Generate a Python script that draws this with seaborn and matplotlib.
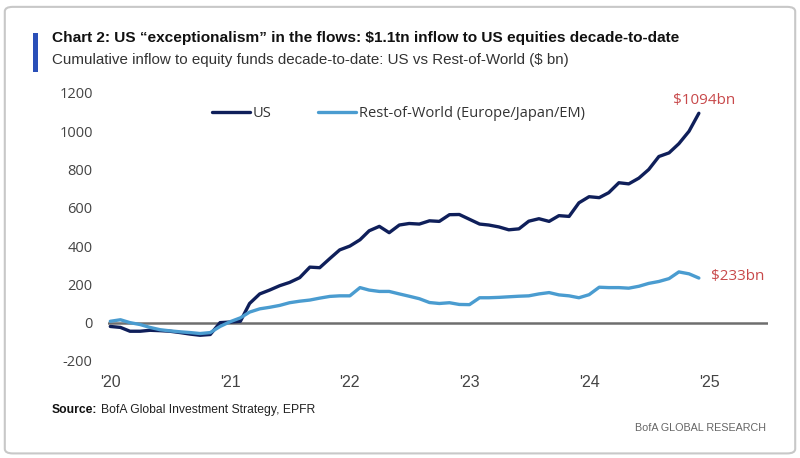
import pandas as pd
import matplotlib
matplotlib.use("Agg")
import matplotlib.pyplot as plt
from matplotlib.patches import FancyBboxPatch, Rectangle
import seaborn as sns

# --------------------------
# data (monthly)
# --------------------------
dates = pd.date_range("2020-01-01", periods=60, freq="MS")
us_flows = [-20, -25, -45, -45, -40, -42, -45, -52, -60, -66,
            -62, 0, 3, 7, 100, 150, 170, 193, 210, 235,
            290, 287, 335, 380, 400, 433, 480, 503, 470, 510,
            518, 515, 532, 529, 564, 565, 540, 515, 510, 500,
            485, 490, 530, 543, 529, 559, 555, 626, 658, 653,
            679, 731, 725, 755, 800, 868, 887, 935, 1000, 1094]
row_flows = [7, 15, 0, -10, -25, -37, -43, -48, -52, -57,
             -52, -20, 5, 25, 55, 72, 80, 90, 104, 112,
             118, 128, 137, 140, 140, 183, 170, 163, 163, 150,
             138, 125, 105, 100, 104, 95, 94, 130, 130, 132,
             135, 138, 140, 150, 157, 145, 140, 130, 146, 185,
             183, 183, 180, 190, 205, 215, 230, 265, 255, 233]
year_ticks = ["2020", "2021", "2022", "2023", "2024", "2025"]
year_labels = ["'20", "'21", "'22", "'23", "'24", "'25"]
y_ticks = [-200, 0, 200, 400, 600, 800, 1000, 1200]

df = pd.DataFrame({"date": dates, "US": us_flows,
                   "Rest-of-World (Europe/Japan/EM)": row_flows})
long = df.melt(id_vars="date", var_name="series", value_name="flow")

# --------------------------
# style
# --------------------------
sns.set_theme(style="white")
plt.rcParams['font.family'] = ['Open Sans', 'DejaVu Sans']
narrow = ['Liberation Sans', 'DejaVu Sans']

fig = plt.figure(figsize=(8, 4.58), dpi=100)
fig.patch.set_facecolor("white")
fig.patches.append(FancyBboxPatch((0.006, 0.01), 0.988, 0.975, boxstyle="round,pad=0,rounding_size=0.01",
                                  transform=fig.transFigure, facecolor="white",
                                  edgecolor="#c8c8c8", linewidth=1.5, zorder=-10))
fig.patches.append(Rectangle((0.041, 0.843), 0.007, 0.085, transform=fig.transFigure,
                             facecolor="#2a4fb8", edgecolor="none"))

ax = fig.add_axes([0.135, 0.212, 0.825, 0.585])
palette = {"US": "#0f1f5a", "Rest-of-World (Europe/Japan/EM)": "#4a9cd0"}
sns.lineplot(data=long, x="date", y="flow", hue="series", palette=palette,
             linewidth=2.4, ax=ax)
ax.axhline(0, color="#6e6e6e", linewidth=1.8, zorder=0)

ax.set_xlim(pd.Timestamp("2019-12-25"), pd.Timestamp("2025-06-30"))
ax.set_ylim(-200, 1200)
ax.set_yticks(y_ticks)
ax.set_yticklabels([str(t) for t in y_ticks])
ax.set_xticks(pd.to_datetime(year_ticks))
ax.set_xticklabels(year_labels, family=narrow)
ax.tick_params(axis="x", labelsize=11.5, colors="#444444", length=0, pad=10)
ax.tick_params(axis="y", labelsize=10.5, colors="#444444", length=0, pad=11)
ax.set_xlabel("")
ax.set_ylabel("")
for s in ax.spines.values():
    s.set_visible(False)

ax.legend(loc="upper center", bbox_to_anchor=(0.44, 1.0), ncol=2, frameon=False,
          fontsize=10.5, handlelength=2.6, handletextpad=0.2, columnspacing=3.2,
          labelcolor="#333333")

ax.annotate("$1094bn", (dates[-1], us_flows[-1]), xytext=(4, 4), textcoords="offset points",
            ha="center", va="bottom", color="#c8494b", fontsize=11)
ax.annotate("$233bn", (dates[-1], row_flows[-1]), xytext=(9, 1), textcoords="offset points",
            ha="left", va="center", color="#c8494b", fontsize=11)

# header / footer texts, shrunk to the widths seen in the reference
renderer = fig.canvas.get_renderer()


def fit_width(txt, width_px):
    w = txt.get_window_extent(renderer).width
    txt.set_fontsize(txt.get_fontsize() * width_px / w)


t1 = fig.text(0.065, 0.917, "Chart 2: US \u201cexceptionalism\u201d in the flows: $1.1tn inflow to US equities decade-to-date",
              family=narrow, fontsize=13, fontweight="bold", color="#111111", va="center")
fit_width(t1, 626)
t2 = fig.text(0.065, 0.868, "Cumulative inflow to equity funds decade-to-date: US vs Rest-of-World ($ bn)",
              family=narrow, fontsize=12, color="#333333", va="center")
fit_width(t2, 518)

src = fig.text(0.065, 0.105, "Source:", family=narrow, fontsize=10, fontweight="bold",
               color="#111111", va="center")
fit_width(src, 45)
src_end = src.get_window_extent(renderer).x1 / fig.bbox.width
t3 = fig.text(src_end + 0.004, 0.105, "BofA Global Investment Strategy, EPFR", family=narrow,
              fontsize=10, color="#222222", va="center")
fit_width(t3, 215)
t4 = fig.text(0.958, 0.066, "BofA GLOBAL RESEARCH", family=narrow, fontsize=10, color="#666666",
              ha="right", va="center")
fit_width(t4, 132)

fig.savefig("out.png", dpi=100)
